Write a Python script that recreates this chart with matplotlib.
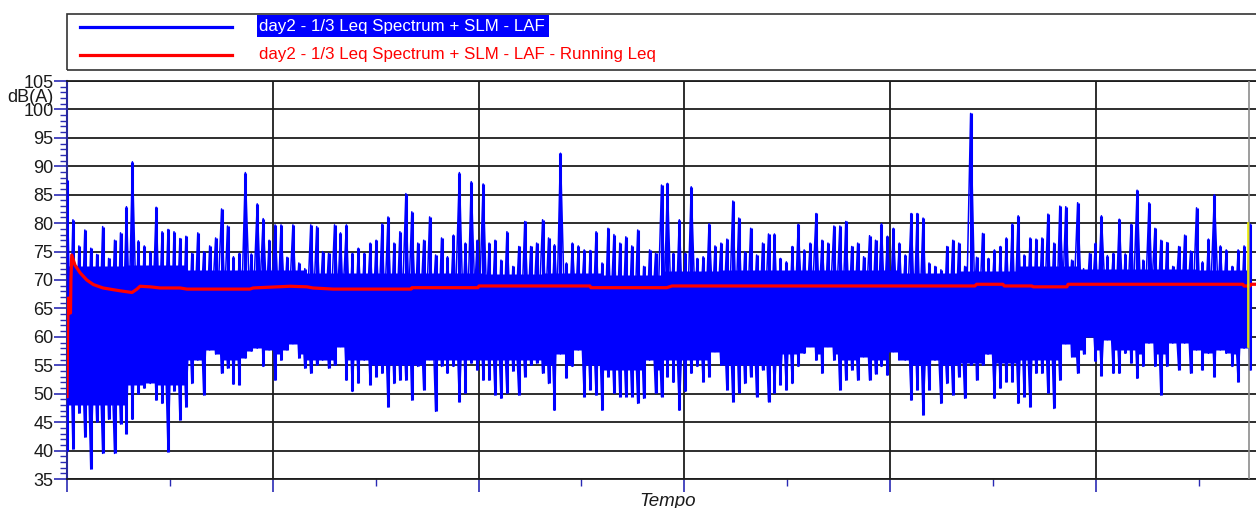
import numpy as np
import matplotlib
matplotlib.use("Agg")
import matplotlib.pyplot as plt
from matplotlib.patches import Rectangle
from matplotlib.lines import Line2D
from matplotlib.ticker import MultipleLocator

plt.rcParams["font.family"] = ["Liberation Sans", "DejaVu Sans"]

# ---- data -------------------------------------------------------------
series_laf = "day2 - 1/3 Leq Spectrum + SLM - LAF"
series_leq = "day2 - 1/3 Leq Spectrum + SLM - LAF - Running Leq"
y_label = "dB(A)"
x_label = "Tempo"

# LAF level, max and min of each sampling block (dB(A))
laf_max = [
    87.6, 80.6, 76.0, 78.8, 75.6, 74.5, 79.4, 73.8, 77.0, 78.3,
    82.9, 90.8, 76.9, 76.0, 75.0, 82.8, 78.5, 78.9, 78.5, 77.3,
    77.7, 74.7, 78.3, 75.0, 76.0, 77.4, 82.5, 79.5, 74.1, 74.7,
    88.9, 74.6, 83.4, 80.8, 77.0, 79.7, 79.7, 74.0, 79.7, 73.0,
    72.0, 79.7, 79.4, 75.0, 74.7, 79.7, 78.3, 79.7, 74.7, 75.6,
    74.7, 76.5, 77.0, 79.9, 81.1, 76.5, 78.5, 85.2, 82.0, 76.5,
    77.0, 81.1, 74.4, 77.4, 74.1, 77.9, 88.9, 76.5, 87.3, 77.0,
    86.9, 76.5, 77.0, 73.5, 78.5, 72.4, 75.9, 80.3, 75.9, 76.5,
    80.6, 77.4, 76.2, 92.3, 73.0, 76.5, 76.0, 75.3, 75.2, 78.5,
    73.0, 79.1, 78.0, 76.5, 77.6, 76.0, 78.8, 72.4, 75.3, 74.7,
    86.7, 87.0, 74.7, 80.6, 74.7, 86.4, 73.8, 74.1, 79.9, 76.0,
    76.5, 77.2, 83.9, 80.9, 75.0, 79.1, 74.4, 76.5, 78.1, 78.1,
    73.8, 73.2, 75.9, 79.8, 75.3, 76.5, 81.7, 77.0, 76.5, 79.5,
    79.5, 80.3, 75.9, 76.5, 74.1, 77.8, 77.0, 79.9, 77.7, 79.1,
    76.5, 74.4, 81.7, 81.7, 80.9, 73.0, 72.4, 71.8, 75.9, 77.0,
    76.5, 72.4, 99.3, 74.0, 78.2, 73.8, 75.3, 75.9, 77.4, 79.9,
    81.3, 74.4, 77.4, 77.2, 77.4, 81.6, 76.5, 83.0, 82.9, 73.5,
    83.6, 72.0, 74.7, 76.5, 81.3, 74.3, 74.7, 80.7, 74.6, 79.8,
    85.8, 73.5, 83.6, 79.1, 77.0, 76.6, 72.4, 75.9, 77.9, 75.1,
    82.7, 73.2, 77.2, 85.0, 76.0, 75.3, 72.4, 75.3, 76.0, 79.8,
]
laf_min = [
    40.0, 40.3, 46.6, 42.4, 36.8, 45.0, 39.5, 45.5, 39.5, 44.7,
    43.0, 45.5, 50.0, 51.0, 51.8, 48.9, 48.3, 39.8, 50.5, 45.4,
    47.7, 51.8, 55.9, 49.8, 57.7, 57.0, 53.6, 54.5, 51.7, 51.6,
    56.3, 57.5, 58.0, 54.8, 57.7, 52.4, 55.9, 57.7, 58.8, 56.3,
    54.5, 53.6, 55.0, 55.9, 54.5, 55.0, 58.3, 52.4, 50.4, 51.9,
    55.9, 51.6, 53.0, 53.6, 47.7, 51.8, 52.4, 52.4, 48.9, 54.8,
    50.7, 56.0, 46.9, 54.8, 53.6, 54.8, 48.6, 50.1, 55.4, 54.2,
    52.4, 52.4, 49.8, 49.2, 50.1, 54.0, 49.8, 53.0, 55.0, 55.4,
    53.6, 51.8, 47.1, 57.0, 52.8, 54.8, 57.7, 49.5, 50.7, 49.8,
    47.1, 53.0, 50.1, 49.5, 49.5, 49.5, 48.3, 49.2, 55.9, 50.1,
    49.5, 53.0, 52.0, 47.1, 50.4, 53.6, 54.8, 52.1, 53.0, 57.4,
    55.0, 50.7, 48.6, 50.1, 51.8, 53.0, 49.5, 54.2, 48.6, 50.1,
    51.6, 50.7, 51.8, 54.8, 57.1, 58.3, 55.9, 53.6, 58.3, 55.9,
    50.7, 52.4, 54.2, 52.4, 56.5, 52.4, 53.5, 54.8, 53.3, 57.4,
    56.0, 55.9, 48.9, 50.7, 46.3, 50.7, 55.9, 48.3, 51.8, 49.8,
    53.0, 49.2, 55.0, 52.4, 55.0, 57.0, 49.2, 51.0, 52.1, 52.1,
    48.3, 49.5, 47.7, 53.6, 53.6, 50.1, 47.4, 52.4, 58.8, 56.5,
    53.6, 57.0, 60.0, 55.7, 53.2, 59.5, 53.6, 53.6, 57.1, 55.4,
    52.7, 54.8, 58.9, 54.8, 49.8, 54.8, 58.9, 54.2, 58.9, 53.6,
    57.7, 54.2, 57.1, 53.0, 57.7, 57.1, 54.8, 52.1, 58.0, 54.2,
]
block_step = 0.02889  # time per sampling block

# range in which the LAF trace is continuously dense, per group of 10 blocks
dense_top = [72.4, 72.6, 71.8, 71.8, 71.2, 71.2, 71.2, 71.0, 71.2, 70.8,
             71.5, 71.8, 71.8, 71.8, 71.2, 71.5, 72.4, 72.0, 72.0, 71.8]
dense_bot = [48.0, 51.5, 56.0, 57.0, 56.0, 55.0, 56.0, 56.0, 55.0, 54.2,
             56.0, 55.0, 57.0, 56.0, 55.0, 55.4, 56.0, 57.7, 57.0, 57.0]
dense_group = 10

# running Leq (time, dB(A))
leq_t = [
    0.000, 0.003, 0.006, 0.012, 0.014, 0.017, 0.019, 0.023, 0.039, 0.063,
    0.096, 0.128, 0.175, 0.224, 0.258, 0.316, 0.340, 0.355, 0.403, 0.452,
    0.549, 0.583, 0.889, 0.904, 1.084, 1.166, 1.195, 1.293, 1.672, 1.676,
    1.997, 2.002, 2.541, 2.546, 2.915, 2.940, 4.412, 4.420, 4.548, 4.555,
    4.689, 4.695, 4.859, 4.865, 5.714, 5.720, 5.748, 5.755, 5.777,
]
leq_db = [
    49.5, 61.2, 66.8, 66.8, 64.2, 64.2, 70.0, 74.4, 72.6, 71.3,
    70.0, 69.2, 68.6, 68.3, 68.1, 67.8, 68.4, 68.9, 68.8, 68.6,
    68.6, 68.4, 68.4, 68.6, 68.9, 68.8, 68.6, 68.4, 68.4, 68.65,
    68.65, 68.95, 68.95, 68.65, 68.65, 68.95, 68.95, 69.25, 69.25, 68.95,
    68.95, 68.8, 68.8, 69.25, 69.25, 68.95, 68.95, 69.25, 69.25,
]
cursor_t = 5.743

# ---- figure -----------------------------------------------------------
W, H = 1256, 508
fig = plt.figure(figsize=(W / 100, H / 100), dpi=100)
fig.patch.set_facecolor("white")


def fx(x):
    return x / W


def fy(y):
    return 1 - y / H


ax = fig.add_axes([fx(67), 29 / H, (W - 67) / W, 398 / H])

hi = np.asarray(laf_max)
lo = np.asarray(laf_min)
n = len(hi)
k = np.arange(n)
t_block = k * block_step

# strokes between blocks: cover the dense range, never beyond the neighbours
grp = np.minimum(k[:-1] // dense_group, len(dense_top) - 1)
join_top = np.minimum(np.asarray(dense_top)[grp], np.minimum(hi[:-1], hi[1:]))
join_bot = np.maximum(np.asarray(dense_bot)[grp], np.maximum(lo[:-1], lo[1:]))
t_join = (k[:-1] + 0.5) * block_step

stroke_kw = dict(color="#0000ff", lw=2.2, capstyle="butt", zorder=3)
ax.vlines(t_join, join_bot, join_top, **stroke_kw)
ax.vlines(t_block, lo, hi, **stroke_kw)

# the signal swinging between the extremes of neighbouring blocks
even = (k % 2) == 0
swing_kw = dict(color="#0000ff", lw=1.1, zorder=3)
ax.plot(t_block, np.where(even, hi, lo), **swing_kw)
ax.plot(t_block, np.where(even, lo, hi), **swing_kw)

ax.plot(leq_t, leq_db, color="#ff0000", lw=2.3, zorder=4)

ax.axvline(cursor_t, color="#8c8c8c", lw=1.2, zorder=5)
ax.plot([cursor_t - 0.004] * 2, [58.2, 80.0], color="#eeee00", lw=1.2, zorder=5)

ax.set_xlim(0, n * block_step)
ax.set_ylim(35, 105)
ax.set_facecolor("white")

ax.yaxis.set_major_locator(MultipleLocator(5))
ax.yaxis.set_minor_locator(MultipleLocator(1))
ax.xaxis.set_major_locator(MultipleLocator(1))
ax.xaxis.set_minor_locator(MultipleLocator(0.5))

ax.set_axisbelow(True)
ax.grid(which="major", color="#1c1c1c", lw=1.3)

tick_col = "#2a2ab4"
ax.tick_params(axis="y", which="major", direction="out", length=9.5, width=1.2,
               color=tick_col, labelsize=13, pad=0.3, labelcolor="#1a1a1a")
ax.tick_params(axis="y", which="minor", direction="out", length=5.2, width=1.0,
               color=tick_col)
ax.tick_params(axis="x", which="major", direction="out", length=9.5, width=1.2,
               color=tick_col, labelbottom=False)
ax.tick_params(axis="x", which="minor", direction="out", length=5.0, width=1.0,
               color=tick_col)

ax.spines["left"].set_color("#28289c")
ax.spines["left"].set_linewidth(1.5)
for s in ("top", "bottom"):
    ax.spines[s].set_color("#1c1c1c")
    ax.spines[s].set_linewidth(1.3)
ax.spines["right"].set_visible(False)

# ---- legend box -------------------------------------------------------
fig.add_artist(Rectangle((fx(67), fy(70)), fx(1275) - fx(67), fy(14) - fy(70),
                         transform=fig.transFigure, fill=False,
                         ec="#333333", lw=1.2, clip_on=False))
fig.add_artist(Rectangle((fx(257), fy(37)), (549 - 257) / W, 22 / H,
                         transform=fig.transFigure, fc="#0000ff", ec="none"))
fig.add_artist(Line2D([fx(80), fx(232)], [fy(26.5)] * 2, color="#0000ff",
                      lw=2.3, transform=fig.transFigure))
fig.add_artist(Line2D([fx(80), fx(232)], [fy(54.5)] * 2, color="#ff0000",
                      lw=2.3, transform=fig.transFigure))
fig.text(fx(259), fy(31.5), series_laf, color="white", fontsize=12.2,
         ha="left", va="baseline")
fig.text(fx(259), fy(59.5), series_leq, color="#ff0000", fontsize=12.2,
         ha="left", va="baseline")

fig.text(fx(30), fy(101.5), y_label, color="#1a1a1a", fontsize=13,
         ha="center", va="baseline")
fig.text(fx(668), fy(506.5), x_label, color="#1a1a1a", fontsize=13.5,
         style="italic", ha="center", va="baseline")

fig.savefig("out.png", dpi=100, facecolor="white")
